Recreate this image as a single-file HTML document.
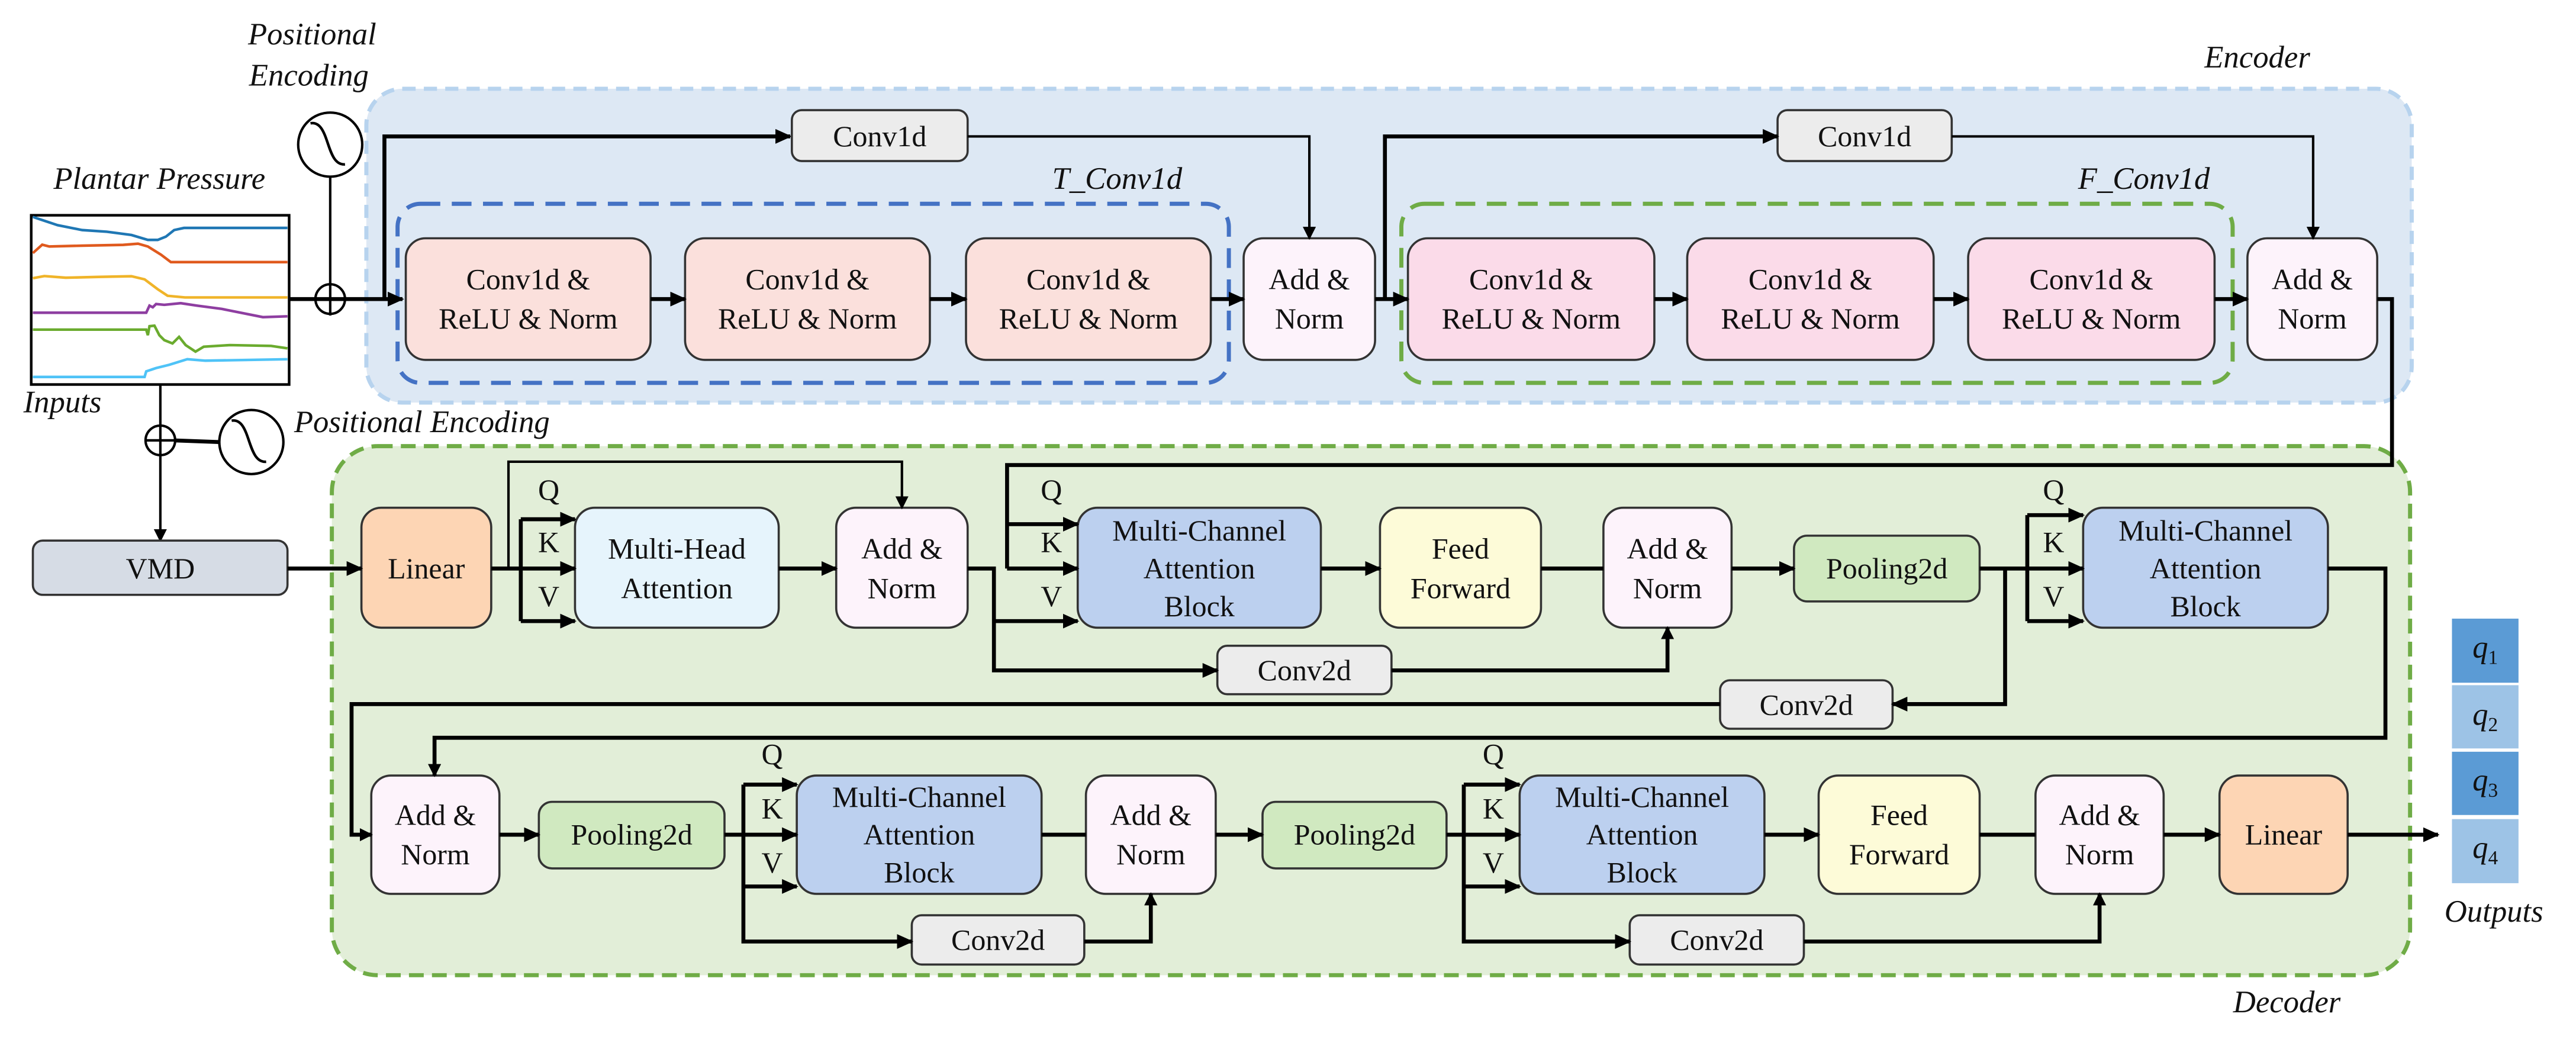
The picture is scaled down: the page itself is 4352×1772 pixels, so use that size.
<!DOCTYPE html>
<html><head><meta charset="utf-8"><style>
html,body{margin:0;padding:0;background:#fff;}
svg{display:block;}
text{font-family:"Liberation Serif",serif;fill:#111;}
.it{font-style:italic;}
.bx{stroke:#333;stroke-width:1.3;}
.ln{stroke:#000;stroke-width:2.4;fill:none;}
.tn{stroke:#000;stroke-width:1.5;fill:none;}
</style></head><body>
<svg width="4352" height="1772" viewBox="0 0 1568 638.4" xmlns="http://www.w3.org/2000/svg">
<defs>
<marker id="a" markerUnits="userSpaceOnUse" markerWidth="10" markerHeight="9" refX="9" refY="4.5" orient="auto"><path d="M0,0 L10,4.5 L0,9 z" fill="#000"/></marker>
<marker id="s" markerUnits="userSpaceOnUse" markerWidth="8" markerHeight="8" refX="7" refY="4" orient="auto"><path d="M0,0 L8,4 L0,8 z" fill="#000"/></marker>
</defs>

<rect x="223" y="54" width="1245" height="191" rx="22" fill="#dde8f4" stroke="#b7d3ee" stroke-width="2.5" stroke-dasharray="8 5"/>
<text x="1374" y="41" class="it" font-size="19" text-anchor="middle">Encoder</text>
<rect x="202" y="271.5" width="1265" height="322" rx="28" fill="#e2eed8" stroke="#6fac46" stroke-width="2.5" stroke-dasharray="9 5"/>
<text x="1392" y="616" class="it" font-size="19" text-anchor="middle">Decoder</text>

<rect x="242" y="124" width="506" height="109" rx="14" fill="none" stroke="#4472c4" stroke-width="2.5" stroke-dasharray="12 7"/>
<text x="680" y="115" class="it" font-size="19" text-anchor="middle">T_Conv1d</text>
<rect x="853" y="124" width="506" height="109" rx="14" fill="none" stroke="#6fac46" stroke-width="2.5" stroke-dasharray="12 7"/>
<text x="1305" y="115" class="it" font-size="19" text-anchor="middle">F_Conv1d</text>

<text x="97" y="115" class="it" font-size="19" text-anchor="middle">Plantar Pressure</text>
<text x="190" y="27" class="it" font-size="19" text-anchor="middle">Positional</text>
<text x="188" y="52" class="it" font-size="19" text-anchor="middle">Encoding</text>
<text x="38" y="251" class="it" font-size="19" text-anchor="middle">Inputs</text>
<text x="179" y="263" class="it" font-size="19">Positional  Encoding</text>
<rect x="19" y="131" width="157" height="103" fill="#fff" stroke="#000" stroke-width="1.6"/>
<g fill="none" stroke-width="1.6">
<polyline stroke="#1f77b4" points="20,132 26,134 35,137 50,140 65,141 80,143 90,146 96,146 101,144 106,140 112,138.7 175,138.7"/>
<polyline stroke="#e05a1e" points="20,154 25.7,148.9 30,150 50,149.5 75,149 84,148.3 90,150 98,155 104,159.5 175,159.5"/>
<polyline stroke="#f0b429" points="20,169.3 27,168 40,169 60,168.5 80,168.1 88,170 96,176 102,180 112.6,181 175,181"/>
<polyline stroke="#8e3ea1" points="20,190.3 89,190.3 91,186 93,187 95,185 100,185.5 110,184.5 120,186 135,188 150,191 160,193 175,192.5"/>
<polyline stroke="#6aab2e" points="20,200.6 89,200.6 90,204 91,198.5 94,198.2 97,204 100,207 105,209 109,205 113,210 119,214 124,211 140,210 165,210.5 175,212"/>
<polyline stroke="#4fc3f7" points="20,229.4 88,229.4 89,226 95,224 103,222 114,218.6 125,219.5 175,218.6"/>
</g>
<ellipse cx="201" cy="88" rx="19.5" ry="19.5" fill="#fff" stroke="#000" stroke-width="1.5"/>
<path d="M189,75 C201,73 198,101 210,100" fill="none" stroke="#000" stroke-width="1.6"/>
<line x1="201" y1="107.5" x2="201" y2="192" class="tn"/>
<circle cx="201" cy="182" r="9" fill="none" stroke="#000" stroke-width="1.5"/>
<line x1="192" y1="182" x2="210" y2="182" class="tn"/>
<line x1="176" y1="182" x2="245" y2="182" class="ln" marker-end="url(#a)"/>
<polyline points="234,182 234,83 481,83" class="ln" marker-end="url(#a)"/>
<line x1="97.6" y1="234" x2="97.6" y2="329" class="tn" marker-end="url(#s)"/>
<circle cx="97.6" cy="268" r="9" fill="none" stroke="#000" stroke-width="1.5"/>
<line x1="89" y1="268" x2="106" y2="268" class="tn"/>
<line x1="106" y1="268" x2="133" y2="269" class="ln"/>
<ellipse cx="153" cy="269" rx="19.5" ry="19.5" fill="#fff" stroke="#000" stroke-width="1.5"/>
<path d="M141,256 C153,254 150,282 162,281" fill="none" stroke="#000" stroke-width="1.6"/>

<g font-size="18" text-anchor="middle">
<rect x="482" y="67" width="107" height="31" rx="6" fill="#ececec" class="bx"/><text x="535.5" y="89">Conv1d</text>
<rect x="1082" y="67" width="106" height="31" rx="6" fill="#ececec" class="bx"/><text x="1135" y="89">Conv1d</text>

<rect x="247" y="145" width="149" height="74" rx="12" fill="#fbe0dc" class="bx"/><text x="321.5" y="176">Conv1d &amp;</text><text x="321.5" y="200">ReLU &amp; Norm</text>
<rect x="417" y="145" width="149" height="74" rx="12" fill="#fbe0dc" class="bx"/><text x="491.5" y="176">Conv1d &amp;</text><text x="491.5" y="200">ReLU &amp; Norm</text>
<rect x="588" y="145" width="149" height="74" rx="12" fill="#fbe0dc" class="bx"/><text x="662.5" y="176">Conv1d &amp;</text><text x="662.5" y="200">ReLU &amp; Norm</text>
<rect x="757" y="145" width="80" height="74" rx="12" fill="#fdf3fb" class="bx"/><text x="797" y="176">Add &amp;</text><text x="797" y="200">Norm</text>

<rect x="857" y="145" width="150" height="74" rx="12" fill="#fbdbe9" class="bx"/><text x="932" y="176">Conv1d &amp;</text><text x="932" y="200">ReLU &amp; Norm</text>
<rect x="1027" y="145" width="150" height="74" rx="12" fill="#fbdbe9" class="bx"/><text x="1102" y="176">Conv1d &amp;</text><text x="1102" y="200">ReLU &amp; Norm</text>
<rect x="1198" y="145" width="150" height="74" rx="12" fill="#fbdbe9" class="bx"/><text x="1273" y="176">Conv1d &amp;</text><text x="1273" y="200">ReLU &amp; Norm</text>
<rect x="1368" y="145" width="79" height="74" rx="12" fill="#fdf3fb" class="bx"/><text x="1407.5" y="176">Add &amp;</text><text x="1407.5" y="200">Norm</text>
</g>
<line x1="396" y1="182" x2="417" y2="182" class="ln" marker-end="url(#a)"/>
<line x1="566" y1="182" x2="588" y2="182" class="ln" marker-end="url(#a)"/>
<line x1="737" y1="182" x2="757" y2="182" class="ln" marker-end="url(#a)"/>
<polyline points="589,83 797,83 797,145" class="tn" marker-end="url(#s)"/>
<line x1="837" y1="182" x2="857" y2="182" class="ln" marker-end="url(#a)"/>
<polyline points="843,182 843,83 1082,83" class="ln" marker-end="url(#a)"/>
<line x1="1007" y1="182" x2="1027" y2="182" class="ln" marker-end="url(#a)"/>
<line x1="1177" y1="182" x2="1198" y2="182" class="ln" marker-end="url(#a)"/>
<line x1="1348" y1="182" x2="1368" y2="182" class="ln" marker-end="url(#a)"/>
<polyline points="1188,83 1408,83 1408,145" class="tn" marker-end="url(#s)"/>
<polyline points="1447,182 1456,182 1456,283 613,283 613,346" class="ln"/>

<g font-size="18" text-anchor="middle">
<rect x="20" y="329" width="155" height="33" rx="6" fill="#d6dce5" class="bx"/><text x="97.6" y="352">VMD</text>
<rect x="220" y="309" width="79" height="73" rx="12" fill="#fdd5b4" class="bx"/><text x="259.5" y="352">Linear</text>
<rect x="350" y="309" width="124" height="73" rx="12" fill="#e6f4fc" class="bx"/><text x="412" y="340">Multi-Head</text><text x="412" y="364">Attention</text>
<rect x="509" y="309" width="80" height="73" rx="12" fill="#fdf3fb" class="bx"/><text x="549" y="340">Add &amp;</text><text x="549" y="364">Norm</text>
<rect x="656" y="309" width="148" height="73" rx="12" fill="#bcd0ef" class="bx"/><text x="730" y="329">Multi-Channel</text><text x="730" y="352">Attention</text><text x="730" y="375">Block</text>
<rect x="840" y="309" width="98" height="73" rx="12" fill="#fdfbd8" class="bx"/><text x="889" y="340">Feed</text><text x="889" y="364">Forward</text>
<rect x="976" y="309" width="78" height="73" rx="12" fill="#fdf3fb" class="bx"/><text x="1015" y="340">Add &amp;</text><text x="1015" y="364">Norm</text>
<rect x="1092" y="326" width="113" height="40" rx="8" fill="#d0e9c0" class="bx"/><text x="1148.5" y="352">Pooling2d</text>
<rect x="1268" y="309" width="149" height="73" rx="12" fill="#bcd0ef" class="bx"/><text x="1342.5" y="329">Multi-Channel</text><text x="1342.5" y="352">Attention</text><text x="1342.5" y="375">Block</text>
<rect x="741" y="393" width="106" height="29.5" rx="6" fill="#ececec" class="bx"/><text x="794" y="414">Conv2d</text>
<rect x="1047" y="414" width="105" height="29.5" rx="6" fill="#ececec" class="bx"/><text x="1099.5" y="435">Conv2d</text>

<rect x="226" y="472" width="78" height="72" rx="12" fill="#fdf3fb" class="bx"/><text x="265" y="502">Add &amp;</text><text x="265" y="526">Norm</text>
<rect x="328" y="488" width="113" height="40.5" rx="8" fill="#d0e9c0" class="bx"/><text x="384.5" y="514">Pooling2d</text>
<rect x="485" y="472" width="149" height="72" rx="12" fill="#bcd0ef" class="bx"/><text x="559.5" y="491">Multi-Channel</text><text x="559.5" y="514">Attention</text><text x="559.5" y="537">Block</text>
<rect x="661" y="472" width="79" height="72" rx="12" fill="#fdf3fb" class="bx"/><text x="700.5" y="502">Add &amp;</text><text x="700.5" y="526">Norm</text>
<rect x="768.5" y="488" width="112" height="40.5" rx="8" fill="#d0e9c0" class="bx"/><text x="824.5" y="514">Pooling2d</text>
<rect x="925" y="472" width="149" height="72" rx="12" fill="#bcd0ef" class="bx"/><text x="999.5" y="491">Multi-Channel</text><text x="999.5" y="514">Attention</text><text x="999.5" y="537">Block</text>
<rect x="1107" y="472" width="98" height="72" rx="12" fill="#fdfbd8" class="bx"/><text x="1156" y="502">Feed</text><text x="1156" y="526">Forward</text>
<rect x="1239" y="472" width="78" height="72" rx="12" fill="#fdf3fb" class="bx"/><text x="1278" y="502">Add &amp;</text><text x="1278" y="526">Norm</text>
<rect x="1351" y="472" width="78" height="72" rx="12" fill="#fdd5b4" class="bx"/><text x="1390" y="514">Linear</text>
<rect x="555" y="557" width="105" height="30" rx="6" fill="#ececec" class="bx"/><text x="607.5" y="578">Conv2d</text>
<rect x="992" y="557" width="106" height="30" rx="6" fill="#ececec" class="bx"/><text x="1045" y="578">Conv2d</text>

<text x="334" y="304">Q</text><text x="334" y="336">K</text><text x="334" y="369">V</text>
<text x="640" y="304">Q</text><text x="640" y="336">K</text><text x="640" y="369">V</text>
<text x="1250" y="304">Q</text><text x="1250" y="336">K</text><text x="1250" y="369">V</text>
<text x="470" y="465">Q</text><text x="470" y="498">K</text><text x="470" y="531">V</text>
<text x="909" y="465">Q</text><text x="909" y="498">K</text><text x="909" y="531">V</text>
</g>

<line x1="175" y1="346" x2="220" y2="346" class="ln" marker-end="url(#a)"/>
<line x1="299" y1="346" x2="350" y2="346" class="ln" marker-end="url(#a)"/>
<polyline points="309.5,346 309.5,281 549,281 549,309" class="tn" marker-end="url(#s)"/>
<polyline points="317,316 317,378" class="ln"/>
<line x1="317" y1="316" x2="350" y2="316" class="ln" marker-end="url(#a)"/>
<line x1="317" y1="378" x2="350" y2="378" class="ln" marker-end="url(#a)"/>
<line x1="474" y1="346" x2="509" y2="346" class="ln" marker-end="url(#a)"/>
<polyline points="589,346 605,346 605,408 741,408" class="ln" marker-end="url(#a)"/>
<line x1="605" y1="378" x2="656" y2="378" class="ln" marker-end="url(#a)"/>
<line x1="613" y1="319" x2="656" y2="319" class="ln" marker-end="url(#a)"/>
<line x1="613" y1="346" x2="656" y2="346" class="ln" marker-end="url(#a)"/>
<line x1="804" y1="346" x2="840" y2="346" class="ln" marker-end="url(#a)"/>
<line x1="938" y1="346" x2="976" y2="346" class="ln"/>
<polyline points="847,408 1015,408 1015,382" class="ln" marker-end="url(#s)"/>
<line x1="1054" y1="346" x2="1092" y2="346" class="ln" marker-end="url(#a)"/>
<line x1="1205" y1="346" x2="1268" y2="346" class="ln" marker-end="url(#a)"/>
<polyline points="1234,313.5 1234,378" class="ln"/>
<line x1="1234" y1="313.5" x2="1268" y2="313.5" class="ln" marker-end="url(#a)"/>
<line x1="1234" y1="378" x2="1268" y2="378" class="ln" marker-end="url(#a)"/>
<polyline points="1220.5,346 1220.5,428.5 1152,428.5" class="ln" marker-end="url(#a)"/>
<polyline points="1047,428.5 214,428.5 214,508 226,508" class="ln" marker-end="url(#s)"/>
<polyline points="1417,346 1452,346 1452,449 264.5,449 264.5,472" class="ln" marker-end="url(#s)"/>

<line x1="304" y1="508" x2="328" y2="508" class="ln" marker-end="url(#a)"/>
<line x1="441" y1="508" x2="485" y2="508" class="ln" marker-end="url(#a)"/>
<polyline points="452.5,477.5 452.5,573 555,573" class="ln" marker-end="url(#a)"/>
<line x1="452.5" y1="477.5" x2="485" y2="477.5" class="ln" marker-end="url(#a)"/>
<line x1="452.5" y1="539.5" x2="485" y2="539.5" class="ln" marker-end="url(#a)"/>
<line x1="634" y1="508" x2="661" y2="508" class="ln"/>
<polyline points="660,573 700.5,573 700.5,544" class="ln" marker-end="url(#s)"/>
<line x1="740" y1="508" x2="768.5" y2="508" class="ln" marker-end="url(#a)"/>
<line x1="880.5" y1="508" x2="925" y2="508" class="ln" marker-end="url(#a)"/>
<polyline points="891,477.5 891,573 992,573" class="ln" marker-end="url(#a)"/>
<line x1="891" y1="477.5" x2="925" y2="477.5" class="ln" marker-end="url(#a)"/>
<line x1="891" y1="539.5" x2="925" y2="539.5" class="ln" marker-end="url(#a)"/>
<line x1="1074" y1="508" x2="1107" y2="508" class="ln" marker-end="url(#a)"/>
<line x1="1205" y1="508" x2="1239" y2="508" class="ln"/>
<polyline points="1098,573 1278,573 1278,544" class="ln" marker-end="url(#s)"/>
<line x1="1317" y1="508" x2="1351" y2="508" class="ln" marker-end="url(#a)"/>
<line x1="1429" y1="508" x2="1484" y2="508" class="ln" marker-end="url(#a)"/>

<rect x="1492.5" y="376.5" width="40.5" height="39" fill="#5b9bd5"/>
<rect x="1492.5" y="417" width="40.5" height="38.5" fill="#9dc3e6"/>
<rect x="1492.5" y="457.5" width="40.5" height="38.5" fill="#5b9bd5"/>
<rect x="1492.5" y="498.5" width="40.5" height="39" fill="#9dc3e6"/>
<g font-size="19" class="it">
<text x="1505" y="400">q<tspan font-size="12" dy="4" font-style="normal">1</tspan></text>
<text x="1505" y="441">q<tspan font-size="12" dy="4" font-style="normal">2</tspan></text>
<text x="1505" y="481">q<tspan font-size="12" dy="4" font-style="normal">3</tspan></text>
<text x="1505" y="522">q<tspan font-size="12" dy="4" font-style="normal">4</tspan></text>
</g>
<text x="1518" y="561" class="it" font-size="19" text-anchor="middle">Outputs</text>
</svg>
</body></html>
